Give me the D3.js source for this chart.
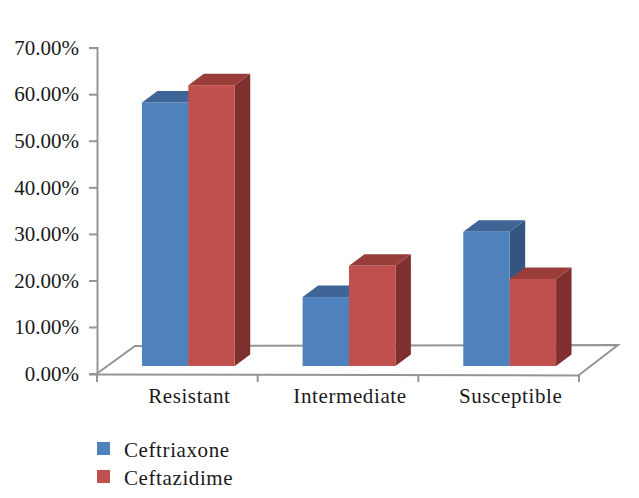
<!DOCTYPE html>
<html>
<head>
<meta charset="utf-8">
<script src="https://cdn.jsdelivr.net/npm/d3@7"></script>
<style>
html, body { margin: 0; padding: 0; background: #fff; }
svg { display: block; }
text { font-family: "Liberation Serif", serif; fill: #1a1a1a; }
</style>
</head>
<body>
<div id="content"></div>
<script>
var categories = ['Resistant', 'Intermediate', 'Susceptible'];
var series = ['Ceftriaxone', 'Ceftazidime'];
var ceftriaxone = [56.6, 14.8, 28.8];
var ceftazidime = [60.3, 21.5, 18.7];
var y_ticks = [0, 10, 20, 30, 40, 50, 60, 70];

var front_colors = ['#4f81bd', '#c0504d'];
var top_colors = ['#3e6596', '#983d3a'];
var side_colors = ['#34557f', '#7f302e'];
var axis_color = '#959595';

var W = 639, H = 498;
var depth_x = 15.5, depth_y = 11.5;   // bar depth
var bar_dx = 11, bar_dy = 7.6;        // bars stand inside the floor

var svg = d3.select('#content').append('svg')
    .attr('width', W)
    .attr('height', H);

var x = d3.scaleBand().domain(categories).range([97, 579])
    .paddingInner(0.4225).paddingOuter(0.21125);
var x_inner = d3.scaleBand().domain(series).range([0, x.bandwidth()]);
var y = d3.scaleLinear().domain([0, 70]).range([373.6, 47.6]);

// floor
var floor_x = [97, 135, 618, 579];
var floor_y = [373.5, 346, 345, 375];
svg.append('path')
    .attr('d', d3.line()(floor_x.map(function(v, i){ return [v, floor_y[i]]; })))
    .attr('fill', 'none')
    .attr('stroke', axis_color)
    .attr('stroke-width', 2);

// y axis
var y_axis = svg.append('g')
    .attr('transform', 'translate(97,0)')
    .call(d3.axisLeft(y).tickValues(y_ticks).tickSize(8).tickPadding(10)
          .tickFormat(function(d){ return d.toFixed(2) + '%'; }));
y_axis.selectAll('text').style('font-size', '21px').attr('fill', '#1a1a1a');

// x axis line and ticks
var x_ticks = categories.map(function(c){ return x(c) - x.step() * x.paddingInner() / 2; });
x_ticks.push(579);
var x_axis = svg.append('g');
x_axis.append('line')
    .attr('x1', 89).attr('x2', 579)
    .attr('y1', 374.5).attr('y2', 375.5)
    .attr('stroke', axis_color).attr('stroke-width', 2);
x_axis.selectAll('.xtick')
    .data(x_ticks)
    .enter()
    .append('line')
    .attr('class', 'xtick')
    .attr('x1', function(d){ return d; })
    .attr('x2', function(d){ return d; })
    .attr('y1', 374)
    .attr('y2', 382)
    .attr('stroke', axis_color)
    .attr('stroke-width', 2);

y_axis.selectAll('path, line')
    .attr('stroke', axis_color)
    .attr('stroke-width', 2);

x_axis.selectAll('.xlabel')
    .data(categories)
    .enter()
    .append('text')
    .attr('class', 'xlabel')
    .attr('x', function(c){ return x(c) + x.bandwidth() / 2 + bar_dx + 1; })
    .attr('y', 403)
    .attr('text-anchor', 'middle')
    .style('font-size', '21px')
    .style('letter-spacing', '0.6px')
    .text(function(c){ return c; });

// bars: blue first, red over it
var values = [ceftriaxone, ceftazidime];
var bars = [];
categories.forEach(function(c, ci){
    series.forEach(function(s, si){
	bars.push({'cat': c, 'ser': s, 'si': si, 'val': values[si][ci]});
    });
});

function poly(pts){
    return pts.map(function(p){ return p.join(','); }).join(' ');
}

var bar_g = svg.selectAll('.bar')
    .data(bars)
    .enter()
    .append('g')
    .attr('class', 'bar');

function bar_box(d){
    var x0 = x(d.cat) + x_inner(d.ser) + bar_dx;
    return {
	'x0': x0,
	'x1': x0 + x_inner.bandwidth(),
	'y0': y(d.val) - bar_dy,
	'y1': y(0) - bar_dy
    };
}

bar_g.append('polygon')
    .attr('fill', function(d){ return side_colors[d.si]; })
    .attr('points', function(d){
	var b = bar_box(d);
	return poly([[b.x1, b.y0], [b.x1 + depth_x, b.y0 - depth_y],
		     [b.x1 + depth_x, b.y1 - depth_y], [b.x1, b.y1]]);
    });
bar_g.append('polygon')
    .attr('fill', function(d){ return top_colors[d.si]; })
    .attr('points', function(d){
	var b = bar_box(d);
	return poly([[b.x0, b.y0], [b.x0 + depth_x, b.y0 - depth_y],
		     [b.x1 + depth_x, b.y0 - depth_y], [b.x1, b.y0]]);
    });
bar_g.append('rect')
    .attr('fill', function(d){ return front_colors[d.si]; })
    .attr('x', function(d){ return bar_box(d).x0; })
    .attr('y', function(d){ return bar_box(d).y0; })
    .attr('width', x_inner.bandwidth())
    .attr('height', function(d){ var b = bar_box(d); return b.y1 - b.y0; });

// legend
var legend_y = d3.scalePoint().domain(series).range([442, 470]);
var legend = svg.selectAll('.legend')
    .data(series)
    .enter()
    .append('g')
    .attr('class', 'legend');
legend.append('rect')
    .attr('x', 97)
    .attr('y', function(s){ return legend_y(s); })
    .attr('width', 13)
    .attr('height', 13)
    .attr('fill', function(s, i){ return front_colors[i]; });
legend.append('text')
    .attr('x', 124)
    .attr('y', function(s){ return legend_y(s) + 14.5; })
    .style('font-size', '21px')
    .style('letter-spacing', '0.6px')
    .text(function(s){ return s; });
</script>
</body>
</html>
